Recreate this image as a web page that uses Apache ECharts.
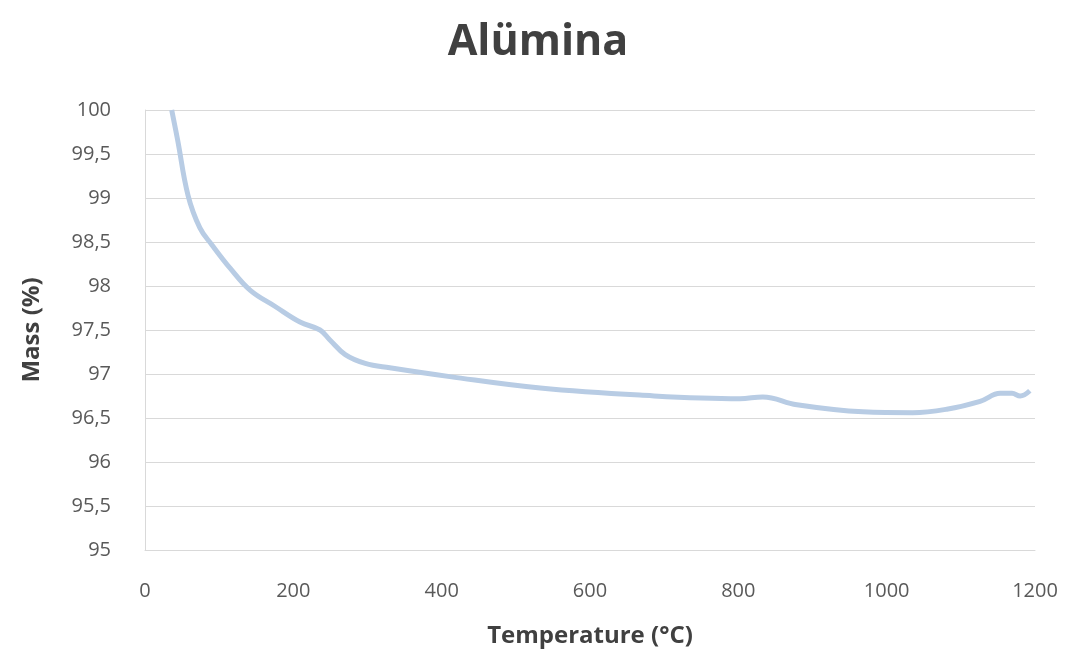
<!DOCTYPE html>
<html>
<head>
<meta charset="utf-8">
<script src="https://cdn.jsdelivr.net/npm/echarts@6/dist/echarts.min.js"></script>
<style>
  html, body { margin: 0; padding: 0; background: #ffffff; }
  #chart { width: 1076px; height: 657px; }
</style>
</head>
<body>
<div id="chart"></div>
<script>
// Thermogravimetric curve of alumina: temperature (°C) vs remaining mass (%)
const temperature = [36, 44, 58, 74, 90, 115, 142, 175, 209, 236, 249, 270, 297, 330, 411, 533, 667, 802, 833, 879, 968, 1035, 1081, 1126, 1153, 1169, 1180, 1193];
const mass = [100.0, 99.66, 99.03, 98.66, 98.47, 98.20, 97.95, 97.77, 97.59, 97.50, 97.39, 97.22, 97.12, 97.07, 96.97, 96.84, 96.76, 96.72, 96.74, 96.65, 96.57, 96.56, 96.60, 96.69, 96.78, 96.78, 96.75, 96.81];

const titleText = 'Alümina';
const xAxisName = 'Temperature (°C)';
const yAxisName = 'Mass (%)';

const points = temperature.map((t, i) => [t, mass[i]]);
const fontFamily = '"Open Sans", "Liberation Sans", sans-serif';

const chart = echarts.init(document.getElementById('chart'));
chart.setOption({
  backgroundColor: '#ffffff',
  title: {
    text: titleText,
    left: 'center',
    top: 16,
    textStyle: { fontFamily, fontSize: 43, fontWeight: 'bold', color: '#404040' }
  },
  grid: { left: 145, right: 41, top: 110, bottom: 107 },
  xAxis: {
    type: 'value',
    min: 0, max: 1200, interval: 200,
    name: xAxisName,
    nameLocation: 'middle',
    nameGap: 74,
    nameTextStyle: { fontFamily, fontSize: 24, fontWeight: 'bold', color: '#404040' },
    axisLine: { show: true, lineStyle: { color: '#d9d9d9', width: 1 } },
    axisTick: { show: false },
    splitLine: { show: false },
    axisLabel: {
      fontFamily, fontSize: 20, color: '#595959', margin: 31,
      formatter: v => String(v)
    }
  },
  yAxis: {
    type: 'value',
    min: 95, max: 100, interval: 0.5,
    name: yAxisName,
    nameLocation: 'middle',
    nameRotate: 90,
    nameGap: 101,
    nameTextStyle: { fontFamily, fontSize: 24, fontWeight: 'bold', color: '#404040' },
    axisLine: { show: true, lineStyle: { color: '#d9d9d9', width: 1 } },
    axisTick: { show: false },
    splitLine: { show: true, lineStyle: { color: '#d9d9d9', width: 1 } },
    axisLabel: {
      fontFamily, fontSize: 20, color: '#595959', margin: 34,
      formatter: v => String(Math.round(v * 10) / 10).replace('.', ',')
    }
  },
  series: [{
    type: 'line',
    data: points,
    smooth: 0.4,
    showSymbol: false,
    lineStyle: { color: '#b8cce4', width: 5 },
    animation: false
  }],
  animation: false
});
</script>
</body>
</html>
